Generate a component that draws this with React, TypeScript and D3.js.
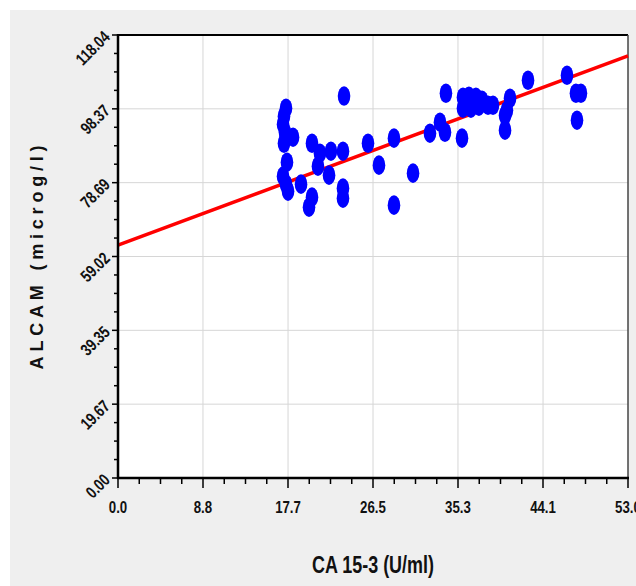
import { useRef, useEffect } from "react";
import { select, scaleLinear, range } from "d3";

// CA 15-3 (U/ml) vs ALCAM (microg/l)
const caValues = [
  17.46, 17.25, 17.15, 17.35, 17.25, 17.56, 17.15, 17.46, 17.67, 18.19,
  19.02, 20.16, 20.99, 20.78, 21.93, 22.13, 23.38, 23.38, 23.38, 20.16,
  19.85, 23.49, 25.98, 27.12, 28.68, 30.66, 28.68, 32.42, 33.46, 33.98,
  34.08, 35.75, 35.85, 36.47, 37.2, 37.83, 38.45, 38.97, 35.85, 36.68,
  37.51, 40.74, 40.42, 40.22, 40.22, 42.61, 46.66, 47.59, 48.11, 47.7,
];
const alcamValues = [
  98.54, 96.4, 94.27, 92.14, 89.21, 84.15, 80.43, 78.3, 76.43, 90.81,
  78.3, 89.21, 86.55, 83.09, 80.69, 87.08, 87.08, 77.23, 74.57, 74.83,
  72.17, 101.77, 89.21, 83.36, 90.55, 81.23, 72.7, 91.88, 94.81, 92.14,
  102.53, 90.55, 101.46, 101.73, 101.46, 100.67, 99.33, 99.33, 98.54, 98.54,
  99.07, 101.2, 98.0, 96.67, 92.68, 105.99, 107.32, 102.53, 102.53, 95.34,
];

const xTicks = [0, 8.83, 17.67, 26.5, 35.33, 44.17, 53.0];
const xTickLabels = ["0.0", "8.8", "17.7", "26.5", "35.3", "44.1", "53.0"];
const yTicks = [0, 19.673, 39.347, 59.02, 78.693, 98.367, 118.04];
const yTickLabels = ["0.00", "19.67", "39.35", "59.02", "78.69", "98.37", "118.04"];

// fitted line
const fitIntercept = 62.05;
const fitSlope = 0.952;

const W = 636;
const H = 586;
const left = 118, right = 628, top = 35, bottom = 478;
const sans = "'Liberation Sans', Arial, sans-serif";
const squeeze = 0.78; // fake a narrow bold face

export default function App() {
  const ref = useRef<SVGSVGElement | null>(null);

  useEffect(() => {
    const svg = select(ref.current!);
    svg.selectAll("*").remove();

    const x = scaleLinear().domain([0, 53.0]).range([left, right]);
    const y = scaleLinear().domain([0, 118.04]).range([bottom, top]);

    // background panel
    svg.append("rect").attr("x", 10).attr("y", 10).attr("width", W - 10).attr("height", H - 10).attr("fill", "#efefef");
    svg.append("rect").attr("x", left).attr("y", top).attr("width", right - left).attr("height", bottom - top).attr("fill", "#fff");

    // grid
    svg.selectAll(".gx").data(xTicks.slice(1, -1)).join("line")
      .attr("x1", (d) => x(d)).attr("x2", (d) => x(d)).attr("y1", top).attr("y2", bottom)
      .attr("stroke", "#d6d6d6").attr("stroke-width", 1);
    svg.selectAll(".gy").data(yTicks.slice(1, -1)).join("line")
      .attr("y1", (d) => y(d)).attr("y2", (d) => y(d)).attr("x1", left).attr("x2", right)
      .attr("stroke", "#d6d6d6").attr("stroke-width", 1);

    // frame
    svg.append("line").attr("x1", left).attr("x2", right).attr("y1", top).attr("y2", top).attr("stroke", "#000").attr("stroke-width", 2);
    svg.append("line").attr("x1", right).attr("x2", right).attr("y1", top).attr("y2", bottom).attr("stroke", "#444").attr("stroke-width", 1.5);

    // fit line
    svg.append("line")
      .attr("x1", x(0)).attr("y1", y(fitIntercept))
      .attr("x2", x(53)).attr("y2", y(fitIntercept + fitSlope * 53))
      .attr("stroke", "#ff0000").attr("stroke-width", 3.5);

    // points
    svg.selectAll(".pt").data(caValues).join("ellipse")
      .attr("cx", (d) => x(d))
      .attr("cy", (d, i) => y(alcamValues[i]))
      .attr("rx", 6.3).attr("ry", 9.8)
      .attr("fill", "#0000ff");

    // axes lines
    svg.append("line").attr("x1", left).attr("x2", left).attr("y1", top - 1).attr("y2", bottom + 1).attr("stroke", "#000").attr("stroke-width", 2.5);
    svg.append("line").attr("x1", left - 1).attr("x2", right + 1).attr("y1", bottom).attr("y2", bottom).attr("stroke", "#000").attr("stroke-width", 2.5);

    // ticks, 3 minor between majors
    const xMinor = range(0, 25).map((i) => (53.0 / 24) * i);
    svg.selectAll(".xt").data(xMinor).join("line")
      .attr("x1", (d) => x(d)).attr("x2", (d) => x(d))
      .attr("y1", bottom).attr("y2", (d, i) => bottom + (i % 4 === 0 ? 10 : 6))
      .attr("stroke", "#000").attr("stroke-width", 1.5);
    const yMinor = range(0, 25).map((i) => (118.04 / 24) * i);
    svg.selectAll(".yt").data(yMinor).join("line")
      .attr("y1", (d) => y(d)).attr("y2", (d) => y(d))
      .attr("x1", left).attr("x2", (d, i) => left - (i % 4 === 0 ? 6 : 4))
      .attr("stroke", "#000").attr("stroke-width", 1.5);

    // tick labels
    svg.selectAll(".xl").data(xTicks).join("text")
      .attr("transform", (d) => `translate(${x(d)},${bottom + 35}) scale(${squeeze},1)`)
      .attr("text-anchor", "middle")
      .attr("font-family", sans).attr("font-weight", "bold").attr("font-size", 17)
      .attr("fill", "#111")
      .text((d, i) => xTickLabels[i]);
    svg.selectAll(".yl").data(yTicks).join("text")
      .attr("transform", (d) => `translate(${left - 7},${y(d) + 3}) rotate(-45) scale(${squeeze},1)`)
      .attr("text-anchor", "end")
      .attr("font-family", sans).attr("font-weight", "bold").attr("font-size", 17)
      .attr("fill", "#111")
      .text((d, i) => yTickLabels[i]);

    // titles
    svg.append("text").attr("transform", `translate(373,573) scale(${squeeze},1)`).attr("text-anchor", "middle")
      .attr("font-family", sans).attr("font-weight", "bold").attr("font-size", 23)
      .attr("fill", "#111").text("CA 15-3 (U/ml)");
    svg.append("text").attr("transform", `translate(43,255) rotate(-90)`).attr("text-anchor", "middle")
      .attr("font-family", sans).attr("font-weight", "bold").attr("font-size", 18)
      .attr("letter-spacing", 4.8)
      .attr("fill", "#111").text("ALCAM (microg/l)");
  }, []);

  return (
    <svg ref={ref} width={W} height={H} style={{ position: "absolute", left: 0, top: 0 }} />
  );
}
